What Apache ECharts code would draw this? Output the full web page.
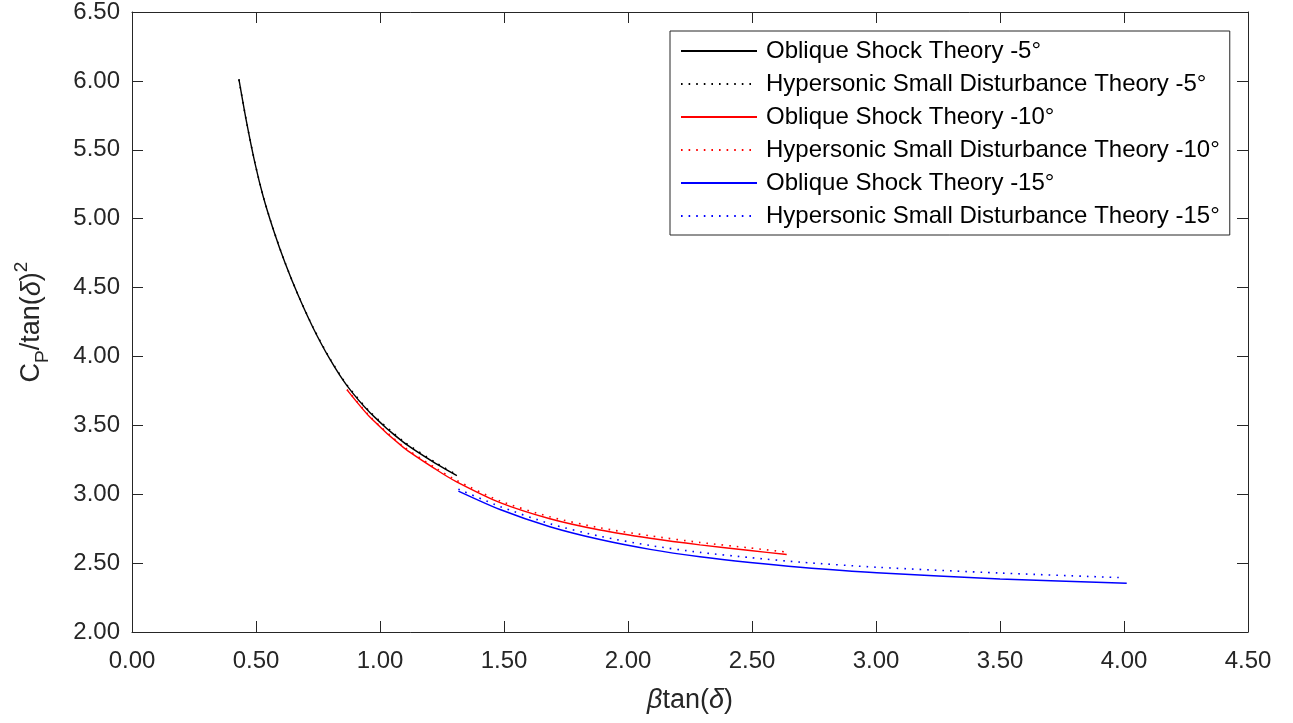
<!DOCTYPE html>
<html>
<head>
<meta charset="utf-8">
<script src="https://cdn.jsdelivr.net/npm/echarts@6/dist/echarts.min.js"></script>
<style>html,body{margin:0;padding:0;background:#fff;}#chart{width:1293px;height:723px;}</style>
</head>
<body>
<div id="chart"></div>
<script>
// ---- data ----
const xTicks = [0, 0.5, 1, 1.5, 2, 2.5, 3, 3.5, 4, 4.5];
const yTicks = [2, 2.5, 3, 3.5, 4, 4.5, 5, 5.5, 6, 6.5];

const names = [
  'Oblique Shock Theory -5°',
  'Hypersonic Small Disturbance Theory -5°',
  'Oblique Shock Theory -10°',
  'Hypersonic Small Disturbance Theory -10°',
  'Oblique Shock Theory -15°',
  'Hypersonic Small Disturbance Theory -15°'
];

const ost5X  = [0.431, 0.462, 0.496, 0.529, 0.570, 0.617, 0.671, 0.731, 0.798, 0.866, 0.960, 1.094, 1.229, 1.310];
const ost5Y  = [6.013, 5.700, 5.401, 5.161, 4.920, 4.680, 4.440, 4.205, 3.980, 3.790, 3.592, 3.378, 3.218, 3.135];
const hsdt5X = [0.431, 0.462, 0.496, 0.529, 0.570, 0.617, 0.671, 0.731, 0.798, 0.866, 0.960, 1.094, 1.229, 1.310];
const hsdt5Y = [6.010, 5.700, 5.403, 5.163, 4.922, 4.682, 4.442, 4.208, 3.984, 3.795, 3.598, 3.385, 3.225, 3.142];

const ost10X  = [0.867, 0.960, 1.094, 1.229, 1.309, 1.484, 1.685, 1.887, 2.089, 2.290, 2.492, 2.640];
const ost10Y  = [3.757, 3.558, 3.340, 3.176, 3.090, 2.939, 2.822, 2.740, 2.680, 2.632, 2.592, 2.562];
const hsdt10X = [0.867, 0.960, 1.094, 1.229, 1.309, 1.484, 1.685, 1.887, 2.089, 2.290, 2.492, 2.640];
const hsdt10Y = [3.760, 3.563, 3.347, 3.185, 3.100, 2.951, 2.836, 2.756, 2.698, 2.650, 2.610, 2.580];

const ost15X  = [1.316, 1.484, 1.685, 1.887, 2.089, 2.290, 2.492, 2.694, 3.003, 3.500, 4.011];
const ost15Y  = [3.023, 2.889, 2.764, 2.671, 2.600, 2.546, 2.504, 2.470, 2.430, 2.385, 2.354];
const hsdt15X = [1.316, 1.484, 1.685, 1.887, 2.089, 2.290, 2.492, 2.694, 3.003, 3.500, 3.997];
const hsdt15Y = [3.037, 2.911, 2.786, 2.695, 2.628, 2.578, 2.540, 2.507, 2.470, 2.428, 2.394];

const colors = ['#000000', '#000000', '#ff0000', '#ff0000', '#0000ff', '#0000ff'];
const dotted = [false, true, false, true, false, true];
// -------------------------------------

const xs = [ost5X, hsdt5X, ost10X, hsdt10X, ost15X, hsdt15X];
const ys = [ost5Y, hsdt5Y, ost10Y, hsdt10Y, ost15Y, hsdt15Y];
const pair = (a, b) => a.map((v, i) => [v, b[i]]);

const FONT = "'Liberation Sans', Arial, Helvetica, sans-serif";
const TXT = '#262626';

const series = names.map((n, k) => ({
  name: n,
  type: 'line',
  data: pair(xs[k], ys[k]),
  showSymbol: false,
  symbol: 'none',
  smooth: 0.25,
  lineStyle: { color: colors[k], width: dotted[k] ? 1.6 : 1.4, type: dotted[k] ? [1.6, 6] : 'solid' },
  itemStyle: { color: colors[k] },
  z: dotted[k] ? 3 : 2,
  animation: false
}));

const axisCommon = {
  axisLine: { show: true, onZero: false, lineStyle: { color: TXT, width: 1 } },
  axisTick: { show: true, inside: true, length: 11, lineStyle: { color: TXT, width: 1 } },
  splitLine: { show: false }
};

const chart = echarts.init(document.getElementById('chart'), null, { renderer: 'canvas' });
chart.setOption({
  animation: false,
  backgroundColor: '#ffffff',
  textStyle: { fontFamily: FONT, color: TXT },
  grid: { left: 132, right: 45, top: 8, bottom: 91, containLabel: false },
  legend: {
    orient: 'vertical',
    left: 670,
    top: 31,
    padding: [8, 10, 7, 10],
    itemGap: 9,
    itemWidth: 76,
    itemHeight: 14,
    borderColor: TXT,
    borderWidth: 1,
    backgroundColor: '#ffffff',
    itemStyle: { opacity: 0 },
    textStyle: { fontFamily: FONT, fontSize: 24, color: '#000000', padding: [0, 0, 0, 4] },
    data: names
  },
  xAxis: [
    Object.assign({
      type: 'value', position: 'bottom',
      min: xTicks[0], max: xTicks[xTicks.length - 1], interval: 0.5,
      name: '{i|β}{n|tan(}{i|δ}{n|)}',
      nameLocation: 'middle', nameGap: 55,
      nameTextStyle: {
        fontFamily: FONT, color: TXT,
        rich: {
          n: { fontFamily: FONT, fontSize: 27, color: TXT },
          i: { fontFamily: FONT, fontSize: 27, color: TXT, fontStyle: 'italic' }
        }
      },
      axisLabel: { fontFamily: FONT, fontSize: 24, color: TXT, margin: 17, formatter: v => v.toFixed(2) }
    }, axisCommon),
    Object.assign({
      type: 'value', position: 'top',
      min: xTicks[0], max: xTicks[xTicks.length - 1], interval: 0.5,
      axisLabel: { show: false }
    }, axisCommon)
  ],
  yAxis: [
    Object.assign({
      type: 'value', position: 'left',
      min: yTicks[0], max: yTicks[yTicks.length - 1], interval: 0.5,
      name: '{n|C}{sub|P}{n|/tan(}{i|δ}{n|)}{sup|2}',
      nameLocation: 'middle', nameGap: 80, nameRotate: 90,
      nameTextStyle: {
        fontFamily: FONT, color: TXT,
        rich: {
          n: { fontFamily: FONT, fontSize: 27, color: TXT, lineHeight: 40 },
          i: { fontFamily: FONT, fontSize: 27, color: TXT, fontStyle: 'italic', lineHeight: 40 },
          sub: { fontFamily: FONT, fontSize: 19, color: TXT, verticalAlign: 'bottom', lineHeight: 22 },
          sup: { fontFamily: FONT, fontSize: 19, color: TXT, verticalAlign: 'top', lineHeight: 22 }
        }
      },
      axisLabel: { fontFamily: FONT, fontSize: 24, color: TXT, margin: 12, formatter: v => v.toFixed(2) }
    }, axisCommon),
    Object.assign({
      type: 'value', position: 'right',
      min: yTicks[0], max: yTicks[yTicks.length - 1], interval: 0.5,
      axisLabel: { show: false }
    }, axisCommon)
  ],
  series: series
});
</script>
</body>
</html>
